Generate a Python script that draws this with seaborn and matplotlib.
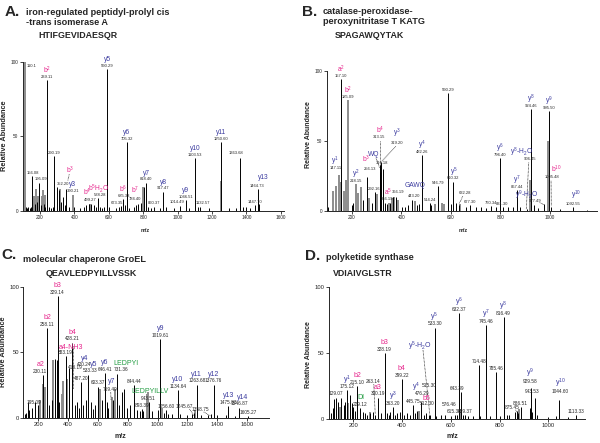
import numpy as np
import pandas as pd
import matplotlib
matplotlib.use("Agg")
import matplotlib.pyplot as plt
import seaborn as sns

# ---------------- panel A : iron-regulated PPIase, HTIFGEVIDAESQR ----------------
A_BLACK_MZ = [156.08, 196, 239.11, 284, 352.2, 499.27, 538.28, 590.29, 673.35, 685.33, 705.32,
              784.4, 818.4, 860.37, 917.47, 1014.49, 1046.51, 1103.53, 1132.57, 1250.6, 1363.68,
              1447.7, 1464.73,
              118, 124, 132, 140, 148, 170, 184, 205, 222, 230, 250, 262, 275, 300, 310, 322, 333,
              345, 370, 400, 430, 455, 470, 485, 512, 525, 548, 560, 575, 600, 640, 660, 695, 720,
              745, 760, 772, 806, 830, 845, 900, 935, 980, 1065, 1120, 1180, 1300, 1340, 1380,
              1395, 1420, 1475]
A_BLACK_INT = [23.4, 18.5, 87.7, 36.8, 15, 5, 8.5, 95, 3.5, 8, 46.4,
               5.5, 19, 3, 13, 3.5, 7.4, 35.7, 2.5, 46, 35.3,
               4, 14.7,
               3, 2, 2.5, 2, 3, 5, 6, 4, 5, 3, 2.5, 2, 3, 16, 14, 6, 9.6,
               4, 3, 2.5, 2, 3, 4, 5, 4, 3, 3, 2, 2.5, 3, 2, 3, 4, 2,
               3, 4, 5, 16, 3, 2, 2, 2.5, 2, 2, 3, 2, 2, 2, 3,
               2.5, 2, 5]
A_GREY_MZ = [110.1, 167, 177, 186, 210, 219, 227, 318, 390.21, 490, 797, 1255]
A_GREY_INT = [100, 10, 15, 10, 10, 14, 11, 15, 11, 5, 16, 20]

A_LAB_MZ = [110.1, 156.08, 196, 239.11, 284, 352.2, 390.21, 499.27, 538.28, 590.29, 673.35,
            685.33, 705.32, 784.4, 818.4, 860.37, 917.47, 1014.49, 1046.51, 1103.53, 1132.57,
            1250.6, 1363.68, 1447.7, 1464.73]
A_LAB_MASS = ['110.1', '156.08', '195.09', '239.11', '290.19', '352.20', '390.21', '499.27',
              '538.28', '590.29', '673.35', '685.33', '705.32', '784.40', '818.40', '860.37',
              '917.47', '1014.49', '1046.51', '1103.53', '1132.57', '1250.60', '1363.68',
              '1447.70', '1464.73']
A_LAB_ION = ['', '', '', 'b$^2$', '', 'b$^3$', 'y3', 'b$^4$', 'b$^5$H$_2$O', 'y5', '', 'b$^6$',
             'y6', 'b$^7$', 'y7', '', 'y8', '', 'y9', 'y10', '', 'y11', '', '', 'y13']

# ---------------- panel B : catalase-peroxidase, SPAGAWQYTAK ----------------
B_BLACK_MZ = [157.1, 260, 292.16, 313.15, 316.18, 319.2, 356.19, 366.19, 443.2, 482.26, 514.24,
              546.79, 590.29, 610.32, 632.28, 677.3, 760.34, 796.4, 831.3, 867.44, 906.45,
              924.46, 977.49, 995.5, 1005.48, 1092.55,
              106, 200, 207, 244, 281, 325, 334, 341, 379, 402, 415, 428, 462, 473, 518, 599,
              621, 660, 700, 720, 740, 780, 810, 850, 880, 935, 950, 1040, 1150]
B_BLACK_INT = [94, 24.5, 13.8, 28, 33, 35, 6, 10, 8, 40, 5.5,
               18, 84, 21, 4.5, 4, 3.5, 37.5, 2.5, 15, 1.5,
               72.5, 5, 71, 3, 3,
               3, 4, 6, 8, 6, 30, 6, 5, 10, 3, 3, 4, 4, 5, 4, 5,
               6, 3, 3, 2.5, 2, 3, 2.5, 3, 3, 4, 2, 1.5, 1]
B_GREY_MZ = [126, 135, 147.11, 155, 169, 177, 185.09, 218.15, 227, 236, 270, 303, 352, 361, 371,
             388, 455, 536, 563, 572, 638, 921, 990]
B_GREY_INT = [14, 18, 26, 21, 14, 22, 79, 19, 13, 17, 9, 12, 6, 9, 10, 8, 7, 5, 6, 5, 5, 22, 50]

B_LAB_MZ = [157.1, 185.09, 147.11, 218.15, 260, 292.16, 313.15, 316.18, 319.2, 356.19, 366.19,
            443.2, 482.26, 514.24, 546.79, 590.29, 610.32, 632.28, 677.3, 760.34, 796.4, 831.3,
            867.44, 906.45, 924.46, 977.49, 995.5, 1005.48, 1092.55]
B_LAB_MASS = ['157.10', '185.09', '147.11', '218.15', '256.13', '292.16', '313.15', '316.18',
              '319.20', '356.19', '366.19', '443.20', '482.26', '514.24', '546.79', '590.29',
              '610.32', '632.28', '677.30', '760.34', '796.40', '831.30', '867.44', '906.45',
              '924.46', '977.49', '995.50', '1005.48', '1092.55']
B_LAB_ION = ['a$^2$', 'b$^2$', 'y$^1$', 'y$^2$', 'b$^3$', '', 'b$^4$', 'WQ', 'y$^3$', 'a$^5$', '',
             'GAWQ', 'y$^4$', '', '', '', 'y$^5$', '', '', '', 'y$^6$', '', 'y$^7$',
             'y$^8$-H$_2$O', 'y$^8$', 'y$^9$-H$_2$O', 'y$^9$', 'b$^{10}$', 'y$^{10}$']

# ---------------- panel C : GroEL, QEAVLEDPYILLVSSK ----------------
C_BLACK_MZ = [195.09, 230.11, 258.11, 312, 323, 329.14, 383.19, 409, 428.21, 487.2, 533.33,
              603.37, 646.41, 731.36, 759.49, 844.44, 893.39, 943.51, 1019.61, 1056.6, 1134.64,
              1245.67, 1263.68, 1358.75, 1376.76, 1475.83, 1546.87, 1605.27,
              110, 120, 133, 140, 155, 178, 274, 290, 341, 446, 458, 471, 502, 518, 551, 565,
              581, 627, 659, 670, 704, 744, 775, 793, 815, 860, 882, 900, 960, 1000, 1045, 1070,
              1100, 1150, 1200, 1230, 1290, 1340, 1400, 1460, 1520]
C_BLACK_INT = [10, 32.7, 68.3, 45, 44, 92.9, 47, 38, 57.5, 27.7, 33,
               24, 34.5, 33.5, 20, 25, 7, 12.5, 60.4, 6, 21.3,
               4, 25.5, 3, 25.5, 9, 8, 1.5,
               3, 4, 12, 6, 8, 12, 10, 14, 12, 10, 12, 8, 10, 14, 12, 7,
               10, 14, 12, 8, 14, 10, 22, 8, 10, 6, 5, 5, 5, 6, 4, 3,
               3, 3, 2, 3, 2, 2, 2, 2, 1.5]
C_GREY_MZ = [211, 234, 245, 301, 357, 368, 390, 614, 692, 715, 927, 938, 1030, 1250]
C_GREY_INT = [14, 26, 24, 44, 18, 28, 30, 22, 16, 22, 18, 20, 8, 6]

C_LAB_MZ = [195.09, 230.11, 258.11, 329.14, 383.19, 409, 428.21, 487.2, 533.33, 603.37, 646.41,
            731.36, 759.49, 844.44, 893.39, 943.51, 1019.61, 1056.6, 1134.64, 1245.67, 1263.68,
            1358.75, 1376.76, 1475.83, 1546.87, 1605.27]
C_LAB_MASS = ['195.09', '230.11', '258.11', '329.14', '383.19', '413.19', '428.21', '487.20',
              '533.33', '603.37', '646.41', '731.36', '759.49', '844.44', '893.39', '943.51',
              '1019.61', '1056.60', '1134.64', '1245.67', '1263.68', '1358.75', '1376.76',
              '1475.83', '1546.87', '1605.27']
C_LAB_ION = ['', 'a2', 'b2', 'b3', 'a4-NH3', '', 'b4', '', 'y5', '', 'y6', 'LEDPYI', 'y7', '', '',
             'LEDPYILLV', 'y9', '', 'y10', '', 'y11', '', 'y12', 'y13', 'y14', '']
C_EXTRA = ['420.24']  # y4, printed over the b4 cluster

# ---------------- panel D : polyketide synthase, VDIAIVGLSTR ----------------
D_BLACK_MZ = [129.07, 175.12, 215.1, 229.12, 290, 300.19, 328.19, 363.2, 399.22, 445.75, 476.29,
              512.3, 515.3, 533.3, 576.46, 615.38, 632.37, 643.39, 659.37, 714.48, 745.46, 785.46,
              816.49, 875.45, 886.51, 929.58, 943.53, 1044.6, 1113.33,
              110, 118, 122, 139, 150, 160, 166, 187, 193, 200, 207, 240, 248, 256, 270, 282,
              312, 337, 345, 351, 372, 380, 392, 410, 420, 432, 455, 462, 490, 500, 540, 560,
              600, 625, 652, 670, 690, 720, 760, 800, 830, 840, 865, 872, 925, 935, 955, 1000,
              1030, 1080]
D_BLACK_INT = [16, 21.4, 25, 8, 3, 16, 50, 9, 29.8, 10, 13,
               3, 2.5, 69, 3, 3, 80.3, 20.5, 3, 40.7, 71, 35,
               77.3, 4, 8.5, 23, 16, 14, 2.5,
               4, 8, 15, 13, 16, 10, 13, 18, 12, 9, 6, 5, 4, 3, 4, 5,
               4, 4, 3, 5, 3, 4, 5, 3, 4, 3, 4, 6, 3, 4, 2, 3,
               2, 3, 3, 2, 2, 2, 2, 2, 3, 2.5, 5, 6, 8, 5, 3, 1.5,
               2, 1.5]
D_GREY_MZ = [145, 180, 268, 470, 640, 880]
D_GREY_INT = [9, 12, 5, 6, 5, 7]

D_LAB_MZ = [129.07, 175.12, 215.1, 229.12, 290, 300.19, 328.19, 363.2, 399.22, 445.75, 476.29,
            512.3, 515.3, 533.3, 576.46, 615.38, 632.37, 643.39, 659.37, 714.48, 745.46, 785.46,
            816.49, 875.45, 886.51, 929.58, 943.53, 1044.6, 1113.33]
D_LAB_MASS = ['129.07', '175.12', '215.10', '229.12', '263.14', '300.19', '328.19', '363.20',
              '399.22', '445.75', '476.29', '512.30', '515.30', '533.30', '576.46', '615.38',
              '632.37', '643.39', '659.37', '714.48', '745.46', '785.46', '816.49', '875.45',
              '886.51', '929.58', '943.53', '1044.60', '1113.33']
D_LAB_ION = ['', 'y$^1$', 'b2', 'DI', '', 'a3', 'b3', 'y$^3$', 'b4', '', 'y$^4$', 'b5',
             'y$^5$-H$_2$O', 'y$^5$', '', '', 'y$^6$', '', '', '', 'y$^7$', '', 'y$^8$', '', '',
             'y$^9$', '', 'y$^{10}$', '']

# label placement tweaks (data coords): 'm' mass text centre, 'i' ion text centre, 'lead' dotted line
A_LAYOUT = {
    '110.1': {'m': (150, 97)},
    '195.09': {'m': (205, 21.5)},
    '352.20': {'m': (332, 18), 'i': (374, 27.5), 'lead': ((370, 24.5), (362, 20.5))},
    '499.27': {'m': (494, 7.2), 'i': (476, 12.5)},
    '538.28': {'m': (548, 10.6), 'i': (538, 15.2)},
    '673.35': {'m': (650, 5.2)},
    '784.40': {'m': (752, 8), 'i': (755, 13.5)},
    '1014.49': {'m': (998, 6.2)},
    '1132.57': {'m': (1146, 5.2)},
    '1363.68': {'m': (1338, 38.8)},
    '1464.73': {'i': (1498, 22.5)},
}
B_LAYOUT = {
    '147.11': {'m': (135, 30.5), 'i': (134, 35.5)},
    '256.13': {'m': (272, 30), 'i': (258, 36.5)},
    '313.15': {'m': (311, 52.5), 'i': (314, 57.5), 'lead': ((313, 50), (313, 29))},
    '316.18': {'m': (322, 34.5), 'i': (289, 40.5), 'lead': ((298, 38), (312, 31))},
    '319.20': {'m': (384, 48.7), 'i': (384, 55.5), 'lead': ((378, 46), (322, 35.5))},
    '356.19': {'m': (343, 8.3), 'i': (347, 13.2)},
    '366.19': {'m': (386, 13.6)},
    '443.20': {'m': (450, 10.8), 'i': (455, 18.5)},
    '632.28': {'m': (655, 12.6), 'lead': ((648, 10.5), (633, 5))},
    '831.30': {'m': (808, 4.8)},
    '906.45': {'m': (919, 36.8), 'i': (886, 42), 'lead': ((914, 34.5), (904, 1))},
    '977.49': {'m': (940, 6.8), 'i': (906, 11.5), 'lead': ((958, 6), (975, 4.5))},
    '1005.48': {'m': (1006, 24), 'i': (1026, 30), 'lead': ((1004, 21.5), (1005, 3.5))},
    '1092.55': {'i': (1106, 10.8)},
}
C_LAYOUT = {
    '195.09': {'m': (172, 12)},
    '230.11': {'m': (212, 35.5), 'i': (214, 40.5)},
    '383.19': {'i': (420, 53.5)},
    '413.19': {'m': (450, 38.5)},
    '428.21': {'lead': ((430, 55), (430, 22))},
    '533.33': {'m': (550, 36.5), 'i': (570, 41)},
    '731.36': {'m': (752, 37), 'i': (790, 41.8)},
    '759.49': {'m': (684, 22), 'i': (694, 27.8), 'lead': ((686, 19.8), (688, 13.5))},
    '943.51': {'m': (940, 15), 'i': (950, 20.2)},
    '1245.67': {'m': (1180, 8.8), 'lead': ((1215, 6.8), (1243, 2))},
    '1358.75': {'m': (1290, 6.2), 'lead': ((1310, 4.6), (1356, 1.5))},
    '1546.87': {'i': (1572, 15.5)},
}
D_LAYOUT = {
    '263.14': {'m': (280, 28.5), 'lead': ((284, 26), (290, 3.5))},
    '476.29': {'m': (482, 18.8), 'i': (456, 23.5)},
    '512.30': {'m': (503, 11.2), 'i': (500, 15.2)},
    '515.30': {'m': (511, 25), 'i': (474, 55), 'lead': ((486, 52), (514, 3))},
    '576.46': {'m': (594, 10.4)},
    '643.39': {'m': (626, 23.2)},
    '875.45': {'m': (850, 8.7), 'lead': ((866, 6.7), (875, 4.3))},
    '929.58': {'m': (927, 28), 'i': (927, 34.5)},
    '943.53': {'m': (934, 20.4)},
    '1044.60': {'m': (1048, 20.5), 'i': (1052, 26.5)},
}

PINK = '#e6258c'
BLUE = '#3b3b9f'
GREEN = '#1f9b3f'


def ion_color(ion):
    if ion.startswith(('a', 'b')):
        return PINK
    if ion in ('LEDPYI', 'LEDPYILLV', 'DI'):
        return GREEN
    return BLUE


def fpos(x, y):
    return x / 600, 1 - y / 443


def draw_panel(rect, black_mz, black_int, grey_mz, grey_int, lab_mz, lab_mass, lab_ion,
               layout, xlim, xticks, fs_tick, fs_m, fs_i):
    ax = fig.add_axes(rect)
    ax.vlines(grey_mz, 0, grey_int, colors='#8c8c8c', lw=1.4)
    ax.vlines(black_mz, 0, black_int, colors='black', lw=0.7)
    heights = dict(zip(black_mz + grey_mz, black_int + grey_int))
    for mz, mass, ion in zip(lab_mz, lab_mass, lab_ion):
        top = heights[mz]
        opt = layout.get(mass, {})
        if 'm' in opt:
            ax.text(*opt['m'], mass, ha='center', va='center', fontsize=fs_m)
            anchor, off = opt['m'], fs_m * 0.6 + fs_i * 0.55
        else:
            ax.annotate(mass, (mz, top), xytext=(0, 0.8), textcoords='offset points',
                        ha='center', va='bottom', fontsize=fs_m)
            anchor, off = (mz, top), 0.8 + fs_m * 1.15 + fs_i * 0.55
        if ion:
            if 'i' in opt:
                ax.text(*opt['i'], ion, ha='center', va='center', fontsize=fs_i,
                        color=ion_color(ion))
            else:
                ax.annotate(ion, anchor, xytext=(0, off), textcoords='offset points',
                            ha='center', va='center', fontsize=fs_i, color=ion_color(ion))
        if 'lead' in opt:
            (x0, y0), (x1, y1) = opt['lead']
            ax.plot([x0, x1], [y0, y1], ls=(0, (1, 1)), lw=0.5, color='black')
    ax.set_xlim(*xlim)
    ax.set_ylim(0, 100)
    ax.set_xticks(xticks)
    ax.set_yticks([0, 50, 100])
    sns.despine(ax=ax)
    ax.tick_params(length=2, width=0.6, pad=1.2, labelsize=fs_tick)
    for s in ax.spines.values():
        s.set_linewidth(0.7)
    return ax


sns.set_theme(style="ticks")
plt.rcParams['font.family'] = ['Liberation Sans', 'DejaVu Sans']
plt.rcParams['mathtext.fontset'] = 'custom'
plt.rcParams['mathtext.rm'] = 'Liberation Sans'
plt.rcParams['mathtext.default'] = 'regular'

fig = plt.figure(figsize=(6, 4.43), dpi=100)

axA = draw_panel([0.038, 0.5237, 0.4357, 0.3373], A_BLACK_MZ, A_BLACK_INT, A_GREY_MZ, A_GREY_INT,
                 A_LAB_MZ, A_LAB_MASS, A_LAB_ION, A_LAYOUT, (100, 1620),
                 [200, 400, 600, 800, 1000, 1200, 1400, 1600], 3.4, 3.0, 4.8)
axB = draw_panel([0.5448, 0.5237, 0.4505, 0.3167], B_BLACK_MZ, B_BLACK_INT, B_GREY_MZ, B_GREY_INT,
                 B_LAB_MZ, B_LAB_MASS, B_LAB_ION, B_LAYOUT, (100, 1190),
                 [200, 400, 600, 800, 1000], 3.4, 3.0, 4.8)
axC = draw_panel([0.039, 0.0564, 0.4098, 0.2964], C_BLACK_MZ, C_BLACK_INT, C_GREY_MZ, C_GREY_INT,
                 C_LAB_MZ, C_LAB_MASS, C_LAB_ION, C_LAYOUT, (100, 1750),
                 [200, 400, 600, 800, 1000, 1200, 1400, 1600], 4.2, 3.4, 5.0)
axC.text(512, 45, 'y4', ha='center', va='center', fontsize=5.0, color=BLUE)
axC.text(510, 40.5, C_EXTRA[0], ha='center', va='center', fontsize=3.4)
axD = draw_panel([0.5482, 0.0549, 0.4265, 0.298], D_BLACK_MZ, D_BLACK_INT, D_GREY_MZ, D_GREY_INT,
                 D_LAB_MZ, D_LAB_MASS, D_LAB_ION, D_LAYOUT, (100, 1150),
                 [200, 400, 600, 800, 1000], 4.2, 3.4, 5.0)

# axis titles
for (x, y), fs in [((5, 136), 5.3), ((308, 135), 5.0), ((4, 352), 5.3), ((308, 355), 5.0)]:
    fig.text(*fpos(x, y), 'Relative Abundance', rotation=90, ha='center', va='center',
             fontsize=fs, fontweight='bold')
for (x, y), fs in [((145, 231), 4.0), ((463, 231), 4.0), ((120, 437), 5.0), ((452, 437), 5.0)]:
    fig.text(*fpos(x, y), 'm/z', ha='center', va='center', fontsize=fs, fontweight='bold')

# panel headings
heads = [
    ('A.', (5, 12), ['iron-regulated peptidyl-prolyl cis', '-trans isomerase A'], (26, 12.5),
     'HTIFGEVIDAESQR', (38, 36)),
    ('B.', (302, 12), ['catalase-peroxidase-', 'peroxynitritase T KATG'], (323, 11.7),
     'SPAGAWQYTAK', (335, 36)),
    ('C.', (1, 255), ['molecular chaperone GroEL'], (23, 259), 'QEAVLEDPYILLVSSK', (46, 274)),
    ('D.', (305, 256.5), ['polyketide synthase'], (326, 258), 'VDIAIVGLSTR', (333, 273)),
]
for letter, lpos, lines, tpos, seq, spos in heads:
    fig.text(*fpos(*lpos), letter, ha='left', va='center', fontsize=11, fontweight='bold')
    for k, line in enumerate(lines):
        fig.text(*fpos(tpos[0], tpos[1] + 10 * k), line, ha='left', va='center',
                 fontsize=6.6, fontweight='bold')
    fig.text(*fpos(*spos), seq, ha='left', va='center', fontsize=6.4, fontweight='bold')

fig.savefig('out.png', dpi=100)
